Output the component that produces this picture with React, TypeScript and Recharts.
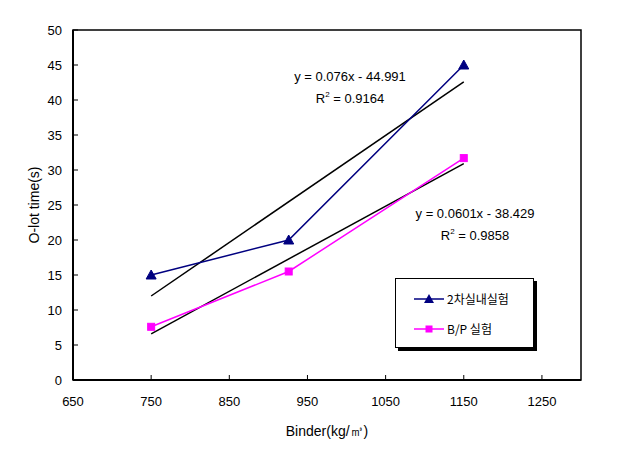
import {
  LineChart,
  Line,
  XAxis,
  YAxis,
  ReferenceArea,
} from 'recharts';

const binder = [750, 926, 1150];
const indoorTest = [15, 20, 45];
const bpTest = [7.6, 15.5, 31.7];

// trend line end points
const trendX = [750, 1150];
const indoorTrend = [12.0, 42.6];
const bpTrend = [6.6, 30.9];

const xTicks = [650, 750, 850, 950, 1050, 1150, 1250];
const yTicks = [0, 5, 10, 15, 20, 25, 30, 35, 40, 45, 50];

const seriesNames = ['2차실내실험', 'B/P 실험'];
const equations = [
  { eq: 'y = 0.076x - 44.991', r2: '0.9164' },
  { eq: 'y = 0.0601x - 38.429', r2: '0.9858' },
];

const data = binder.map((b, i) => ({ binder: b, indoor: indoorTest[i], bp: bpTest[i] }));
const trend1 = trendX.map((x, i) => ({ binder: x, t: indoorTrend[i] }));
const trend2 = trendX.map((x, i) => ({ binder: x, t: bpTrend[i] }));

const font = '"Liberation Sans", Arial, sans-serif';
const NAVY = '#000080';
const MAGENTA = '#FF00FF';

const Triangle = (props: any) => {
  const { cx, cy } = props;
  if (cx == null || cy == null) return null;
  return <polygon points={`${cx},${cy - 5} ${cx - 5},${cy + 4} ${cx + 5},${cy + 4}`} fill={NAVY} stroke={NAVY} />;
};

const Square = (props: any) => {
  const { cx, cy } = props;
  if (cx == null || cy == null) return null;
  return <rect x={cx - 3.5} y={cy - 3.5} width={7} height={7} fill={MAGENTA} stroke={MAGENTA} />;
};

function LegendBox() {
  const row = (y: number, color: string, marker: any, label: string) => (
    <div style={{ position: 'absolute', left: 18, top: y, display: 'flex', alignItems: 'center' }}>
      <svg width={30} height={12}>
        <line x1={0} y1={6} x2={30} y2={6} stroke={color} strokeWidth={1.5} />
        {marker}
      </svg>
      <span style={{ marginLeft: 3, fontSize: 12, fontFamily: '"Noto Sans CJK KR", sans-serif', color: '#000' }}>
        {label}
      </span>
    </div>
  );
  return (
    <div
      style={{
        position: 'absolute',
        left: 395,
        top: 278,
        width: 137,
        height: 68,
        background: '#fff',
        border: '1px solid #000',
        boxShadow: '3px 3px 0 #000',
      }}
    >
      {row(11, NAVY, <polygon points="15,1 10,10 20,10" fill={NAVY} />, seriesNames[0])}
      {row(41, MAGENTA, <rect x={11.5} y={2.5} width={7} height={7} fill={MAGENTA} />, seriesNames[1])}
    </div>
  );
}

const annStyle: React.CSSProperties = {
  position: 'absolute',
  fontFamily: font,
  fontSize: 13,
  color: '#000',
  textAlign: 'center',
  lineHeight: '22px',
  whiteSpace: 'nowrap',
};

export default function App() {
  return (
    <div style={{ position: 'absolute', left: 0, top: 0, width: 617, height: 463, background: '#fff' }}>
      <LineChart width={617} height={463} margin={{ top: 30, right: 36, bottom: 25, left: 0 }}>
        <XAxis
          dataKey="binder"
          type="number"
          domain={[650, 1300]}
          ticks={xTicks}
          allowDataOverflow
          height={58}
          tickSize={-5}
          tickMargin={22}
          axisLine={{ stroke: '#000', strokeWidth: 2 }}
          tickLine={{ stroke: '#000' }}
          tick={{ fill: '#000', fontSize: 13, fontFamily: font }}
          label={{ value: 'Binder(kg/㎥)', position: 'insideBottom', offset: 2, fill: '#000', fontSize: 14, fontFamily: font }}
        />
        <YAxis
          type="number"
          domain={[0, 50]}
          ticks={yTicks}
          width={73}
          tickSize={-5}
          tickMargin={16}
          axisLine={{ stroke: '#000', strokeWidth: 2 }}
          tickLine={{ stroke: '#000' }}
          tick={{ fill: '#000', fontSize: 13, fontFamily: font }}
          label={{ value: 'O-lot time(s)', angle: -90, position: 'insideLeft', offset: 34, fill: '#000', fontSize: 14, fontFamily: font, style: { textAnchor: 'middle' } }}
        />
        <ReferenceArea x1={650} x2={1300} y1={0} y2={50} fill="none" stroke="#000" strokeWidth={1.5} />
        <Line data={trend1} dataKey="t" stroke="#000" strokeWidth={1.5} dot={false} isAnimationActive={false} />
        <Line data={trend2} dataKey="t" stroke="#000" strokeWidth={1.5} dot={false} isAnimationActive={false} />
        <Line
          data={data}
          dataKey="indoor"
          name={seriesNames[0]}
          stroke={NAVY}
          strokeWidth={1.5}
          dot={<Triangle />}
          isAnimationActive={false}
        />
        <Line
          data={data}
          dataKey="bp"
          name={seriesNames[1]}
          stroke={MAGENTA}
          strokeWidth={1.5}
          dot={<Square />}
          isAnimationActive={false}
        />
      </LineChart>
      <LegendBox />
      <div style={{ ...annStyle, left: 270, top: 66, width: 160 }}>
        <div>{equations[0].eq}</div>
        <div>R<sup style={{ fontSize: 8, verticalAlign: 'top', lineHeight: '14px' }}>2</sup> = {equations[0].r2}</div>
      </div>
      <div style={{ ...annStyle, left: 390, top: 203, width: 170 }}>
        <div>{equations[1].eq}</div>
        <div>R<sup style={{ fontSize: 8, verticalAlign: 'top', lineHeight: '14px' }}>2</sup> = {equations[1].r2}</div>
      </div>
    </div>
  );
}
